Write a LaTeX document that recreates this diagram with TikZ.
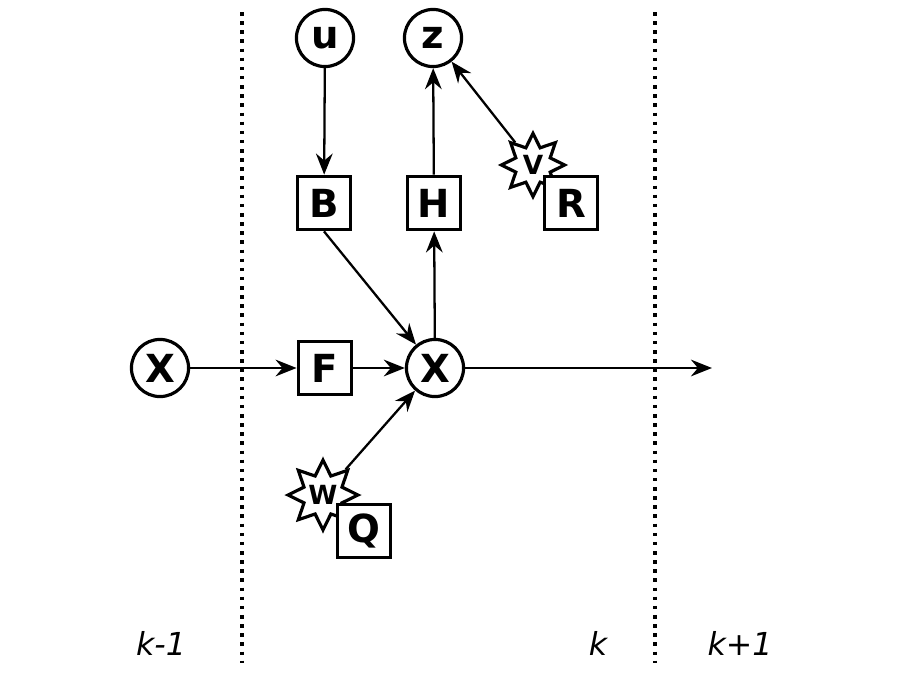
\documentclass[tikz,border=0pt]{standalone}
\usepackage{fontspec}
\setsansfont{DejaVu Sans}
\usetikzlibrary{shapes.geometric, arrows.meta}

\begin{document}
\begin{tikzpicture}[x=0.02cm, y=-0.02cm,
  var/.style={circle, draw, line width=1.8pt, fill=white, minimum size=32.5pt, inner sep=0pt, font=\sffamily\bfseries\fontsize{22}{22}\selectfont},
  block/.style={rectangle, draw, line width=1.8pt, fill=white, minimum size=30.5pt, inner sep=0pt, font=\sffamily\bfseries\fontsize{22}{22}\selectfont},
  noise/.style={star, star points=8, star point ratio=1.7, draw, line width=1.8pt, fill=white, minimum size=36pt, inner sep=0pt, font=\sffamily\bfseries\fontsize{15}{15}\selectfont},
  link/.style={-{Stealth[length=12pt, width=9.5pt, inset=4pt]}, line width=1.3pt},
  slice/.style={line width=2.2pt, dash pattern=on 2pt off 3.2pt},
  steplabel/.style={font=\sffamily\itshape\fontsize{18}{18}\selectfont}
]
\fill[white] (0,0) rectangle (900,680);

% time slices
\draw[slice] (242,12) -- (242,663);
\draw[slice] (655,12) -- (655,663);
\node[steplabel] (kprev) at (161,643) {k-1};
\node[steplabel] (kcur) at (598,643) {k};
\node[steplabel] (knext) at (740,643) {k+1};

% variables
\node[var] (u) at (325,38) {u};
\node[var] (z) at (433,38) {z};
\node[var] (Xprev) at (160,368) {X};
\node[var] (Xk) at (435,368) {X};

% blocks and noise
\node[block] (B) at (324,203) {B};
\node[block] (H) at (434,203) {H};
\node[block] (F) at (325,368) {F};
\node[noise] (V) at (533,165) {V};
\node[block] (R) at (571,203) {R};
\node[noise] (W) at (323,495) {W};
\node[block] (Q) at (364,531) {Q};
\coordinate (next) at (712,368);

% links
\draw[link] (u) -- (B);
\draw[link] (H) -- (z);
\draw[link] (V) -- (z);
\draw[link] (B.south) -- (Xk);
\draw[link] (Xk) -- (H);
\draw[link] (Xprev) -- (F);
\draw[link] (F) -- (Xk);
\draw[link] (W) -- (Xk);
\draw[link] (Xk) -- (next);
\end{tikzpicture}
\end{document}
